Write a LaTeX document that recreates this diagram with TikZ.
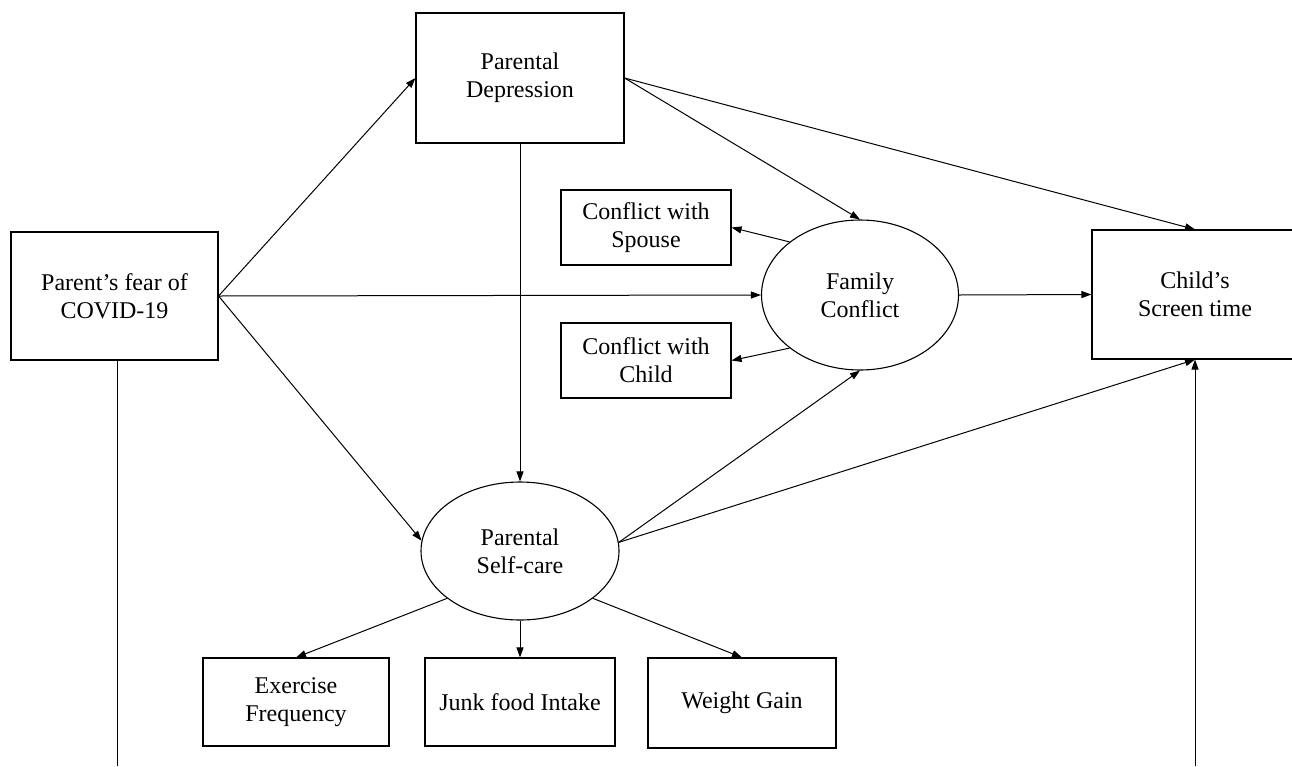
\documentclass[tikz,border=0pt]{standalone}
\usepackage{fontspec}
\setmainfont{Liberation Serif}
\usetikzlibrary{arrows.meta,shapes.geometric}
\begin{document}
\begin{tikzpicture}[x=1pt,y=-1pt,
  box/.style={draw, rectangle, line width=1.1pt, align=center, inner sep=0pt, font=\fontsize{24}{28}\selectfont},
  oval/.style={draw, ellipse, line width=1.1pt, align=center, inner sep=0pt, font=\fontsize{24}{28}\selectfont},
  arr/.style={line width=1pt, -{Triangle[length=10pt,width=7pt]}},
  ln/.style={line width=1pt}]
\clip (0,0) rectangle (1292,766);
\fill[white] (0,0) rectangle (1292,766);
\node[box, minimum width=207pt, minimum height=128pt] (fear) at (114.5,296) {Parent’s fear of\\COVID-19};
\node[box, minimum width=208pt, minimum height=130pt] (dep) at (520,78) {Parental\\Depression};
\node[box, minimum width=170pt, minimum height=75pt] (spouse) at (646,227.5) {Conflict with\\Spouse};
\node[box, minimum width=170pt, minimum height=75pt] (cchild) at (646,360.5) {Conflict with\\Child};
\node[oval, minimum width=197pt, minimum height=150pt] (fam) at (860,295) {Family\\Conflict};
\node[box, minimum width=206pt, minimum height=129pt] (screen) at (1195,294.5) {Child’s\\Screen time};
\node[oval, minimum width=198pt, minimum height=138pt] (self) at (520,551) {Parental\\Self-care};
\node[box, minimum width=186pt, minimum height=88pt] (ex) at (296,702) {Exercise\\Frequency};
\node[box, minimum width=190pt, minimum height=88pt] (junk) at (520,702) {Junk food Intake};
\node[box, minimum width=188pt, minimum height=90pt] (wg) at (742,703) {Weight Gain};
\coordinate (fearend) at (117,766);
\coordinate (screenend) at (1195,766);

\draw[arr] (fear.east) -- (dep.west);
\draw[arr] (fear.east) -- (fam.west);
\draw[arr] (fear.east) -- (self.174);
\draw[arr] (dep.south) -- (self.north);
\draw[arr] (dep.east) -- (fam.north);
\draw[arr] (dep.east) -- (screen.north);
\draw[arr] (fam.143) -- (spouse.east);
\draw[arr] (fam.217) -- (cchild.east);
\draw[arr] (fam.east) -- (screen.west);
\draw[arr] (self.5) -- (fam.south);
\draw[arr] (self.5) -- (screen.south);
\draw[arr] (self.213) -- (ex.north);
\draw[arr] (self.south) -- (junk.north);
\draw[arr] (self.327) -- (wg.north);
\draw[ln] (fear.south -| fearend) -- (fearend);
\draw[arr] (screenend) -- (screen.south);
\end{tikzpicture}
\end{document}
